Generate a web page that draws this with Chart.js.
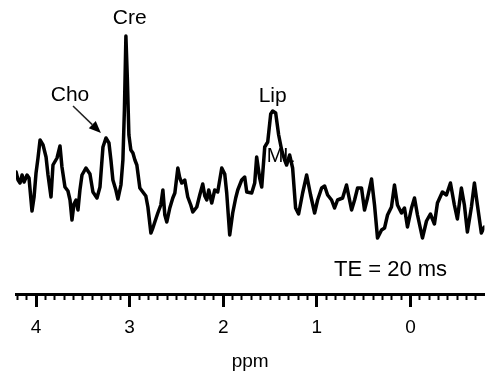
<!DOCTYPE html>
<html><head><meta charset="utf-8">
<script src="https://cdn.jsdelivr.net/npm/chart.js@4"></script>
<style>html,body{margin:0;padding:0;background:#fff}canvas{display:block}</style>
</head><body>
<canvas id="c" width="485" height="376"></canvas>
<script>
// chemical shift (ppm) of each sample of the spectrum
const ppm = [4.213,4.192,4.171,4.149,4.128,4.096,4.075,4.043,4.021,4.000,
3.979,3.957,3.925,3.893,3.872,3.840,3.819,3.776,3.744,3.723,
3.691,3.659,3.637,3.616,3.595,3.573,3.552,3.531,3.509,3.467,
3.424,3.392,3.349,3.317,3.285,3.253,3.221,3.200,3.179,3.147,
3.125,3.093,3.072,3.056,3.040,3.024,3.008,2.987,2.965,2.944,
2.923,2.891,2.859,2.827,2.805,2.773,2.752,2.731,2.699,2.667,
2.645,2.624,2.603,2.571,2.539,2.517,2.485,2.464,2.443,2.411,
2.379,2.347,2.325,2.283,2.251,2.219,2.197,2.176,2.155,2.123,
2.091,2.059,2.016,1.984,1.963,1.931,1.899,1.867,1.845,1.803,
1.771,1.749,1.696,1.664,1.643,1.611,1.589,1.557,1.525,1.493,
1.472,1.440,1.408,1.376,1.344,1.323,1.291,1.259,1.227,1.195,
1.152,1.109,1.067,1.024,0.992,0.949,0.917,0.885,0.843,0.811,
0.779,0.725,0.683,0.629,0.597,0.565,0.523,0.491,0.459,0.416,
0.384,0.352,0.309,0.277,0.245,0.203,0.171,0.139,0.096,0.064,
0.032,-0.011,-0.043,-0.075,-0.128,-0.171,-0.213,-0.256,-0.288,-0.341,
-0.384,-0.427,-0.469,-0.501,-0.544,-0.576,-0.608,-0.651,-0.683,-0.715,
-0.757,-0.789];
// signal intensity (arbitrary units)
const intensity = [122,114,111,119,112,119,116,83,97,121,
136,154,149,137,119,97,129,136,148,127,
107,103,94,74,90,94,84,104,119,126,
120,102,96,107,147,156,151,134,114,104,
95,109,134,184,258,214,159,144,141,134,
129,106,102,98,87,61,66,72,81,89,
104,79,72,86,96,101,126,116,111,114,
97,89,82,87,99,110,98,94,104,91,
104,102,126,120,101,59,81,96,104,114,
117,102,101,111,137,116,107,147,152,180,
183,181,159,144,134,129,139,126,86,80,
101,119,99,81,94,106,108,99,94,86,
94,96,109,84,94,106,106,84,96,115,
89,56,64,66,79,87,109,89,81,86,
67,86,96,79,56,73,80,70,91,102,
99,111,89,75,106,89,62,87,111,89,
61,67];
// axis
const ppmMin = -0.79, ppmMax = 4.214;
const majorTicks = [4, 3, 2, 1, 0];
const axisTitle = 'ppm';
// annotations
const labelTexts = ['Cre', 'Cho', 'Lip', 'TE = 20 ms'];
const labelPpm = [3.0, 3.637, 1.472, 0.213];
const labelLevel = [276, 199, 198, 24];
const labelSizes = [21, 21, 21, 22];
const mlText = 'ML';
const mlPpm = 1.536, mlLevel = 138;
const arrowFrom = [3.605, 188], arrowTo = [3.307, 161];

const FONT = '"Liberation Sans", Arial, Helvetica, sans-serif';
Chart.defaults.font.family = FONT;
Chart.defaults.color = '#000';

const isMajor = v => majorTicks.some(m => Math.abs(m - v) < 1e-6);

const annot = {
  id: 'annot',
  beforeDatasetsDraw(chart) {
    const {ctx, scales: {x, y}} = chart;
    ctx.save();
    ctx.fillStyle = '#000';
    ctx.font = '20px ' + FONT;
    ctx.textAlign = 'left';
    ctx.textBaseline = 'middle';
    ctx.fillText(mlText, x.getPixelForValue(mlPpm), y.getPixelForValue(mlLevel));
    ctx.restore();
  },
  afterDatasetsDraw(chart) {
    const {ctx, scales: {x, y}} = chart;
    ctx.save();
    ctx.fillStyle = '#000';
    ctx.textAlign = 'center';
    ctx.textBaseline = 'middle';
    labelTexts.forEach((t, i) => {
      ctx.font = labelSizes[i] + 'px ' + FONT;
      ctx.fillText(t, x.getPixelForValue(labelPpm[i]), y.getPixelForValue(labelLevel[i]));
    });
    // arrow
    const x1 = x.getPixelForValue(arrowFrom[0]), y1 = y.getPixelForValue(arrowFrom[1]);
    const x2 = x.getPixelForValue(arrowTo[0]), y2 = y.getPixelForValue(arrowTo[1]);
    const ang = Math.atan2(y2 - y1, x2 - x1);
    const hl = 12, hw = 5;
    ctx.strokeStyle = '#222';
    ctx.lineWidth = 1.5;
    ctx.beginPath();
    ctx.moveTo(x1, y1);
    ctx.lineTo(x2 - hl * Math.cos(ang), y2 - hl * Math.sin(ang));
    ctx.stroke();
    ctx.fillStyle = '#000';
    ctx.beginPath();
    ctx.moveTo(x2, y2);
    ctx.lineTo(x2 - hl * Math.cos(ang) + hw * Math.sin(ang), y2 - hl * Math.sin(ang) - hw * Math.cos(ang));
    ctx.lineTo(x2 - hl * Math.cos(ang) - hw * Math.sin(ang), y2 - hl * Math.sin(ang) + hw * Math.cos(ang));
    ctx.closePath();
    ctx.fill();
    ctx.restore();
  }
};

new Chart(document.getElementById('c'), {
  type: 'line',
  data: {
    datasets: [{
      data: ppm.map((p, i) => ({x: p, y: intensity[i]})),
      borderColor: '#000',
      borderWidth: 3.5,
      pointRadius: 0,
      tension: 0,
      borderJoinStyle: 'round',
      borderCapStyle: 'round',
      fill: false
    }]
  },
  options: {
    responsive: false,
    devicePixelRatio: 1,
    animation: false,
    layout: {padding: {left: 16, right: 0, top: 0, bottom: 0}},
    plugins: {legend: {display: false}, tooltip: {enabled: false}},
    scales: {
      x: {
        type: 'linear',
        reverse: true,
        min: ppmMin,
        max: ppmMax,
        afterFit: s => { s.height = 82; },
        border: {display: true, color: '#000', width: 3},
        grid: {
          display: true,
          drawOnChartArea: false,
          drawTicks: true,
          tickLength: 13,
          tickColor: '#000',
          tickWidth: c => isMajor(c.tick.value) ? 3 : 2,
          tickBorderDash: c => isMajor(c.tick.value) ? [] : [4, 40]
        },
        ticks: {
          stepSize: 0.1,
          includeBounds: false,
          autoSkip: false,
          maxRotation: 0,
          padding: 9,
          color: '#000',
          font: {size: 19},
          callback: v => isMajor(v) ? String(Math.round(v)) : ''
        },
        title: {
          display: true,
          text: axisTitle,
          color: '#000',
          font: {size: 19},
          padding: {top: 0, bottom: 3}
        }
      },
      y: {
        display: false,
        min: 0,
        max: 294
      }
    }
  },
  plugins: [annot]
});
</script>
</body></html>
